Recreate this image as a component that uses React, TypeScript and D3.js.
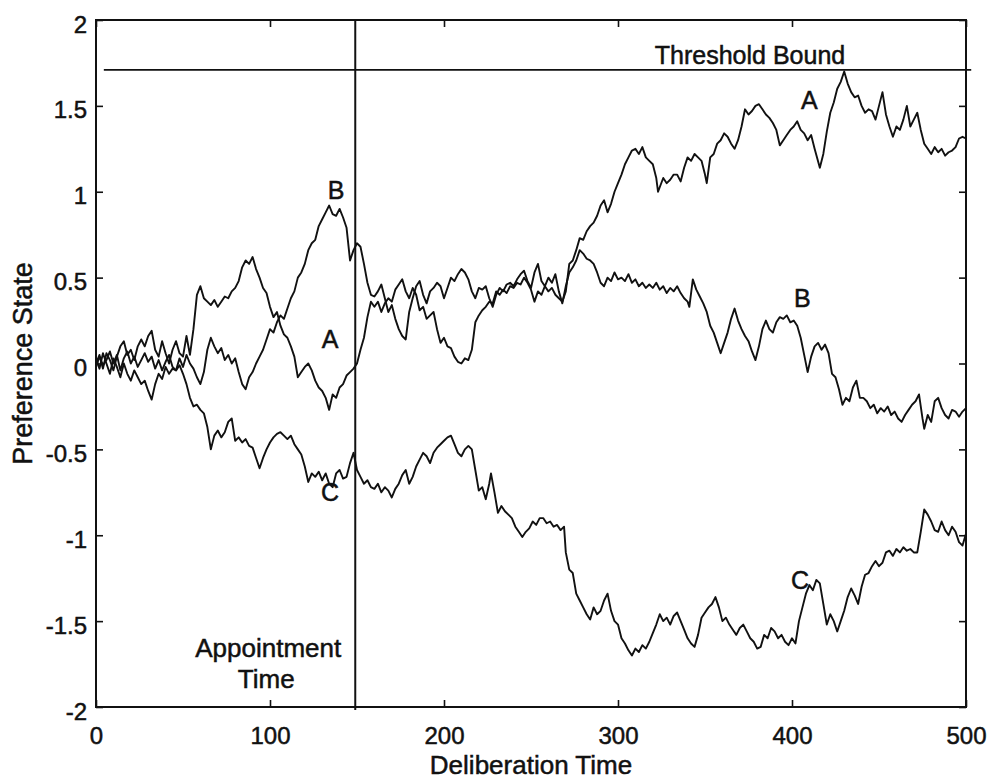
import React, { useEffect, useRef } from "react";
import * as d3 from "d3";

// preference state of each option over deliberation time
const seriesA: [number, number][] = [
  [0, 0], [2, 0.05], [4, -0.03], [6, 0.06], [8, 0.02], [10, -0.04], [12, 0.04], [14, 0.1], [16, 0.13], [18, 0.05],
  [20, 0.08], [22, 0.02], [24, 0.1], [26, 0.14], [28, 0.1], [30, 0.16], [32, 0.19], [34, 0.08], [36, 0.04], [38, 0.13],
  [40, 0.06], [42, 0], [44, 0.08], [46, 0.13], [48, 0.06], [50, 0.04], [52, 0.16], [54, 0.05], [56, 0.2], [58, 0.4],
  [60, 0.45], [62, 0.38], [64, 0.36], [66, 0.34], [68, 0.37], [70, 0.33], [72, 0.36], [74, 0.39], [76, 0.38], [78, 0.42],
  [80, 0.44], [82, 0.48], [84, 0.56], [86, 0.6], [88, 0.58], [90, 0.62], [92, 0.55], [94, 0.5], [96, 0.44], [98, 0.41],
  [100, 0.33], [102, 0.27], [104, 0.3], [106, 0.22], [108, 0.17], [110, 0.15], [112, 0.1], [114, 0.04], [116, -0.08], [118, -0.05],
  [120, -0.02], [122, 0], [124, -0.04], [126, -0.1], [128, -0.14], [130, -0.16], [132, -0.2], [134, -0.27], [136, -0.18], [138, -0.2],
  [140, -0.14], [142, -0.12], [144, -0.07], [146, -0.05], [148, -0.03], [150, 0], [152, 0.08], [154, 0.15], [156, 0.27], [158, 0.36],
  [160, 0.33], [162, 0.36], [164, 0.3], [166, 0.35], [168, 0.38], [170, 0.36], [172, 0.43], [174, 0.46], [176, 0.49], [178, 0.42],
  [180, 0.38], [182, 0.44], [184, 0.4], [186, 0.31], [188, 0.33], [190, 0.26], [192, 0.28], [194, 0.3], [196, 0.2], [198, 0.12],
  [200, 0.15], [202, 0.1], [204, 0.09], [206, 0.04], [208, 0.01], [210, 0], [212, 0.03], [214, 0.02], [216, 0.08], [218, 0.24],
  [220, 0.28], [222, 0.31], [224, 0.33], [226, 0.36], [228, 0.35], [230, 0.42], [232, 0.4], [234, 0.43], [236, 0.41], [238, 0.45],
  [240, 0.44], [242, 0.47], [244, 0.46], [246, 0.5], [248, 0.47], [250, 0.43], [252, 0.36], [254, 0.42], [256, 0.4], [258, 0.45],
  [260, 0.42], [262, 0.44], [264, 0.4], [266, 0.38], [268, 0.36], [270, 0.42], [272, 0.58], [274, 0.6], [276, 0.66], [278, 0.73],
  [280, 0.72], [282, 0.77], [284, 0.8], [286, 0.82], [288, 0.86], [290, 0.92], [292, 0.95], [294, 0.88], [296, 0.93], [298, 1.0],
  [300, 1.05], [302, 1.1], [304, 1.16], [306, 1.2], [308, 1.24], [310, 1.25], [312, 1.22], [314, 1.26], [316, 1.2], [318, 1.18],
  [320, 1.16], [322, 1.08], [323, 1.0], [326, 1.08], [328, 1.05], [330, 1.07], [332, 1.1], [334, 1.1], [336, 1.06], [338, 1.14],
  [340, 1.2], [342, 1.18], [344, 1.22], [346, 1.2], [348, 1.18], [350, 1.1], [351, 1.05], [353, 1.2], [355, 1.22], [357, 1.28],
  [359, 1.3], [361, 1.34], [363, 1.32], [365, 1.28], [367, 1.25], [369, 1.3], [371, 1.38], [373, 1.48], [375, 1.45], [377, 1.47],
  [379, 1.5], [381, 1.51], [383, 1.48], [385, 1.45], [387, 1.43], [389, 1.4], [391, 1.36], [393, 1.27], [395, 1.3], [397, 1.33],
  [399, 1.36], [401, 1.38], [403, 1.41], [405, 1.36], [407, 1.34], [409, 1.3], [411, 1.33], [413, 1.25], [416, 1.14], [418, 1.22],
  [420, 1.35], [422, 1.46], [424, 1.52], [426, 1.6], [428, 1.64], [430, 1.7], [432, 1.63], [434, 1.58], [436, 1.55], [438, 1.56],
  [440, 1.5], [442, 1.46], [444, 1.48], [446, 1.47], [448, 1.42], [450, 1.5], [452, 1.58], [454, 1.45], [456, 1.38], [458, 1.32],
  [460, 1.38], [462, 1.36], [464, 1.42], [466, 1.5], [468, 1.38], [470, 1.42], [472, 1.46], [474, 1.36], [476, 1.28], [478, 1.25],
  [480, 1.22], [482, 1.26], [484, 1.23], [486, 1.25], [488, 1.21], [490, 1.23], [492, 1.24], [494, 1.26], [496, 1.31], [498, 1.32],
  [500, 1.31],
];

const seriesB: [number, number][] = [
  [0, 0.03], [2, -0.03], [4, 0.06], [6, 0], [8, -0.06], [10, 0.03], [12, -0.02], [14, -0.08], [16, 0], [18, -0.06],
  [20, -0.1], [22, -0.04], [24, -0.08], [26, -0.12], [28, -0.1], [30, -0.16], [32, -0.21], [34, -0.12], [36, -0.06], [38, -0.09],
  [40, -0.02], [42, -0.06], [44, -0.03], [46, -0.04], [48, 0.03], [50, -0.02], [52, 0.05], [54, 0], [56, -0.03], [58, -0.08],
  [60, -0.12], [62, -0.05], [64, 0.08], [66, 0.15], [68, 0.1], [70, 0.06], [72, 0.09], [74, 0.02], [76, 0.05], [78, 0],
  [80, 0.03], [82, -0.05], [84, -0.12], [86, -0.15], [88, -0.08], [90, -0.05], [92, 0], [94, 0.04], [96, 0.08], [98, 0.14],
  [100, 0.2], [102, 0.18], [104, 0.24], [106, 0.28], [108, 0.26], [110, 0.32], [112, 0.38], [114, 0.42], [116, 0.5], [118, 0.53],
  [120, 0.58], [122, 0.66], [124, 0.7], [126, 0.72], [128, 0.8], [130, 0.84], [132, 0.88], [134, 0.92], [136, 0.87], [138, 0.86],
  [140, 0.9], [142, 0.85], [144, 0.79], [146, 0.6], [148, 0.66], [150, 0.7], [152, 0.68], [154, 0.58], [156, 0.47], [158, 0.4],
  [160, 0.39], [162, 0.42], [164, 0.46], [166, 0.38], [168, 0.3], [170, 0.34], [172, 0.26], [174, 0.2], [176, 0.16], [178, 0.14],
  [180, 0.3], [182, 0.38], [184, 0.45], [186, 0.48], [188, 0.4], [190, 0.35], [192, 0.42], [194, 0.44], [196, 0.47], [198, 0.45],
  [200, 0.38], [202, 0.44], [204, 0.5], [206, 0.48], [208, 0.52], [210, 0.55], [212, 0.53], [214, 0.49], [216, 0.42], [218, 0.38],
  [220, 0.44], [222, 0.43], [224, 0.45], [226, 0.38], [228, 0.33], [230, 0.4], [232, 0.44], [234, 0.42], [236, 0.46], [238, 0.47],
  [240, 0.45], [242, 0.49], [244, 0.52], [246, 0.54], [248, 0.48], [250, 0.44], [252, 0.53], [254, 0.58], [256, 0.48], [258, 0.45],
  [260, 0.5], [262, 0.47], [264, 0.52], [266, 0.42], [268, 0.35], [270, 0.45], [272, 0.53], [274, 0.56], [276, 0.6], [278, 0.66],
  [280, 0.64], [282, 0.61], [284, 0.6], [286, 0.58], [288, 0.53], [290, 0.47], [292, 0.45], [294, 0.5], [296, 0.48], [298, 0.53],
  [300, 0.49], [302, 0.5], [304, 0.48], [306, 0.52], [308, 0.47], [310, 0.49], [312, 0.45], [314, 0.47], [316, 0.44], [318, 0.46],
  [320, 0.44], [322, 0.47], [324, 0.43], [326, 0.45], [328, 0.41], [330, 0.44], [332, 0.42], [334, 0.45], [336, 0.41], [338, 0.38],
  [340, 0.36], [341, 0.33], [343, 0.49], [345, 0.43], [347, 0.39], [349, 0.35], [351, 0.3], [353, 0.22], [355, 0.18], [357, 0.12],
  [359, 0.06], [361, 0.12], [363, 0.18], [365, 0.26], [367, 0.32], [369, 0.25], [371, 0.2], [373, 0.16], [375, 0.13], [377, 0.07],
  [379, 0.02], [381, 0.1], [383, 0.2], [385, 0.25], [387, 0.2], [389, 0.18], [391, 0.24], [393, 0.27], [395, 0.26], [397, 0.28],
  [399, 0.24], [401, 0.25], [403, 0.22], [405, 0.15], [407, 0.05], [409, -0.05], [411, 0.04], [413, 0.1], [415, 0.12], [417, 0.08],
  [419, 0.11], [421, 0.06], [423, -0.06], [425, -0.08], [427, -0.15], [429, -0.24], [431, -0.2], [433, -0.22], [435, -0.14], [437, -0.1],
  [439, -0.2], [441, -0.2], [443, -0.22], [445, -0.26], [447, -0.24], [449, -0.29], [451, -0.26], [453, -0.28], [455, -0.25], [457, -0.3],
  [459, -0.28], [461, -0.32], [463, -0.34], [465, -0.3], [467, -0.27], [469, -0.24], [471, -0.22], [473, -0.18], [475, -0.32], [476, -0.38],
  [478, -0.3], [480, -0.34], [482, -0.22], [484, -0.2], [486, -0.26], [488, -0.3], [490, -0.32], [492, -0.27], [494, -0.28], [496, -0.31],
  [498, -0.28], [500, -0.26],
];

const seriesC: [number, number][] = [
  [0, -0.02], [2, 0.04], [4, -0.01], [6, 0.02], [8, 0.07], [10, 0], [12, 0.05], [14, -0.04], [16, 0.03], [18, 0.07],
  [20, 0], [22, 0.04], [24, -0.02], [26, 0.02], [28, 0.06], [30, 0.01], [32, 0.04], [34, -0.03], [36, 0.02], [38, -0.04],
  [40, 0.01], [42, 0.05], [44, -0.02], [46, -0.04], [48, -0.01], [50, -0.06], [52, -0.12], [54, -0.2], [56, -0.25], [58, -0.24],
  [60, -0.27], [62, -0.29], [64, -0.37], [66, -0.5], [68, -0.42], [70, -0.39], [72, -0.43], [74, -0.4], [76, -0.34], [78, -0.32],
  [80, -0.45], [82, -0.43], [84, -0.46], [86, -0.44], [88, -0.48], [90, -0.49], [92, -0.55], [94, -0.61], [96, -0.55], [98, -0.5],
  [100, -0.46], [102, -0.43], [104, -0.41], [106, -0.4], [108, -0.42], [110, -0.44], [112, -0.42], [114, -0.47], [116, -0.5], [118, -0.53],
  [120, -0.6], [122, -0.69], [124, -0.64], [126, -0.66], [128, -0.63], [130, -0.68], [132, -0.64], [134, -0.7], [136, -0.72], [138, -0.64],
  [140, -0.62], [142, -0.67], [144, -0.66], [146, -0.58], [148, -0.52], [150, -0.62], [152, -0.66], [154, -0.7], [156, -0.68], [158, -0.72],
  [160, -0.73], [162, -0.7], [164, -0.75], [166, -0.72], [168, -0.74], [170, -0.78], [172, -0.73], [174, -0.7], [176, -0.65], [178, -0.62],
  [180, -0.7], [182, -0.66], [184, -0.6], [186, -0.56], [188, -0.52], [190, -0.54], [192, -0.58], [194, -0.52], [196, -0.49], [198, -0.47],
  [200, -0.45], [202, -0.43], [204, -0.42], [206, -0.47], [208, -0.52], [210, -0.54], [212, -0.5], [214, -0.48], [216, -0.5], [218, -0.62],
  [220, -0.74], [222, -0.72], [224, -0.79], [226, -0.7], [227, -0.64], [229, -0.75], [231, -0.87], [233, -0.83], [235, -0.86], [237, -0.88],
  [239, -0.9], [241, -0.95], [243, -0.98], [245, -1.01], [247, -0.98], [249, -0.96], [251, -0.92], [253, -0.94], [255, -0.9], [257, -0.9],
  [259, -0.93], [261, -0.92], [263, -0.95], [265, -0.94], [267, -0.97], [269, -0.95], [270, -1.1], [272, -1.2], [274, -1.22], [276, -1.34],
  [278, -1.38], [280, -1.42], [282, -1.46], [284, -1.49], [286, -1.42], [288, -1.46], [290, -1.44], [292, -1.38], [294, -1.34], [296, -1.44],
  [298, -1.5], [300, -1.52], [302, -1.6], [304, -1.63], [306, -1.67], [308, -1.7], [310, -1.66], [312, -1.68], [314, -1.64], [316, -1.66],
  [318, -1.62], [320, -1.57], [322, -1.52], [324, -1.46], [326, -1.5], [328, -1.48], [330, -1.52], [332, -1.47], [334, -1.45], [336, -1.5],
  [338, -1.55], [340, -1.6], [342, -1.63], [344, -1.65], [346, -1.58], [348, -1.48], [350, -1.45], [352, -1.42], [354, -1.4], [356, -1.36],
  [358, -1.42], [360, -1.5], [362, -1.48], [364, -1.52], [366, -1.55], [368, -1.58], [370, -1.54], [372, -1.52], [374, -1.56], [376, -1.6],
  [378, -1.62], [380, -1.66], [382, -1.65], [384, -1.58], [386, -1.6], [388, -1.54], [390, -1.56], [392, -1.6], [394, -1.58], [396, -1.62],
  [398, -1.64], [400, -1.6], [402, -1.63], [404, -1.5], [406, -1.42], [408, -1.34], [410, -1.29], [412, -1.32], [414, -1.26], [416, -1.28],
  [418, -1.4], [420, -1.52], [422, -1.46], [424, -1.5], [426, -1.56], [428, -1.5], [430, -1.44], [432, -1.36], [434, -1.31], [436, -1.35],
  [438, -1.4], [440, -1.3], [442, -1.23], [444, -1.22], [446, -1.18], [448, -1.15], [450, -1.18], [452, -1.16], [454, -1.1], [456, -1.09],
  [458, -1.12], [460, -1.08], [462, -1.1], [464, -1.07], [466, -1.09], [468, -1.08], [470, -1.1], [472, -1.1], [474, -0.98], [476, -0.85],
  [478, -0.88], [480, -0.92], [482, -0.97], [484, -0.98], [486, -0.92], [488, -0.97], [490, -1.0], [492, -0.95], [494, -0.98], [496, -1.04],
  [498, -1.06], [500, -0.99],
];

const xTicks = [0, 100, 200, 300, 400, 500];
const yTicks = [-2, -1.5, -1, -0.5, 0, 0.5, 1, 1.5, 2];
const thresholdBound = 1.71;
const appointmentTime = 149;

// curve letters, placed in data units
const curveLabels = [
  { text: "B", t: 138, v: 1.01 },
  { text: "A", t: 134.5, v: 0.14 },
  { text: "C", t: 134.5, v: -0.75 },
  { text: "A", t: 410, v: 1.53 },
  { text: "B", t: 406, v: 0.38 },
  { text: "C", t: 404.6, v: -1.26 },
];

const font = "'Liberation Sans', Arial, Helvetica, sans-serif";
const ink = "#111";

const App = () => {
  const ref = useRef<SVGSVGElement>(null);

  useEffect(() => {
    document.body.style.margin = "0";
    const svg = d3.select(ref.current);
    svg.selectAll("*").remove();

    const width = 987;
    const height = 782;
    const left = 96, right = 966, top = 20, bottom = 707;

    const x = d3.scaleLinear().domain([0, 500]).range([left, right]);
    const y = d3.scaleLinear().domain([-2, 2]).range([bottom, top]);

    svg.attr("width", width).attr("height", height);
    svg.append("rect").attr("width", width).attr("height", height).attr("fill", "white");

    // axes with inward ticks on all four sides
    const tickLen = 7;
    const bottomAxis = svg
      .append("g")
      .attr("transform", `translate(0, ${bottom})`)
      .call(d3.axisBottom(x).tickValues(xTicks).tickSizeInner(-tickLen).tickSizeOuter(0).tickPadding(20));
    const leftAxis = svg
      .append("g")
      .attr("transform", `translate(${left}, 0)`)
      .call(
        d3.axisLeft(y).tickValues(yTicks).tickSizeInner(-tickLen).tickSizeOuter(0).tickPadding(9)
          .tickFormat((d) => `${d}`)
      );
    svg
      .append("g")
      .attr("transform", `translate(0, ${top})`)
      .call(d3.axisTop(x).tickValues(xTicks).tickSizeInner(-tickLen).tickSizeOuter(0).tickFormat(() => ""));
    svg
      .append("g")
      .attr("transform", `translate(${right}, 0)`)
      .call(d3.axisRight(y).tickValues(yTicks).tickSizeInner(-tickLen).tickSizeOuter(0).tickFormat(() => ""));

    svg.selectAll(".domain").remove();
    svg.selectAll(".tick line").attr("stroke", ink).attr("stroke-width", 1.6);

    [bottomAxis, leftAxis].forEach((g) =>
      g
        .selectAll("text")
        .attr("font-family", font)
        .attr("font-size", 24)
        .attr("fill", ink)
        .attr("stroke", ink)
        .attr("stroke-width", 0.5)
    );
    leftAxis.selectAll("text").attr("dy", "0.5em");

    // frame
    svg
      .append("rect")
      .attr("x", left)
      .attr("y", top)
      .attr("width", right - left)
      .attr("height", bottom - top)
      .attr("fill", "none")
      .attr("stroke", ink)
      .attr("stroke-width", 2);

    // threshold and appointment lines
    svg
      .append("line")
      .attr("x1", x(4.5))
      .attr("x2", x(503))
      .attr("y1", y(thresholdBound))
      .attr("y2", y(thresholdBound))
      .attr("stroke", ink)
      .attr("stroke-width", 1.8);
    svg
      .append("line")
      .attr("x1", x(appointmentTime))
      .attr("x2", x(appointmentTime))
      .attr("y1", top)
      .attr("y2", bottom + 3)
      .attr("stroke", ink)
      .attr("stroke-width", 2);

    // random-walk preference curves
    const line = d3
      .line<[number, number]>()
      .x((d) => x(d[0]))
      .y((d) => y(d[1]));

    [seriesA, seriesB, seriesC].forEach((s) => {
      svg
        .append("path")
        .datum(s)
        .attr("d", line)
        .attr("fill", "none")
        .attr("stroke", ink)
        .attr("stroke-width", 1.9)
        .attr("stroke-linejoin", "round");
    });

    const addText = (tx: number, ty: number, text: string, size: number) =>
      svg
        .append("text")
        .attr("x", tx)
        .attr("y", ty)
        .attr("text-anchor", "middle")
        .attr("font-family", font)
        .attr("font-size", size)
        .attr("fill", ink)
        .attr("stroke", ink)
        .attr("stroke-width", 0.5)
        .text(text);

    // curve letters
    curveLabels.forEach((d) => addText(x(d.t), y(d.v), d.text, 25).attr("dy", "0.35em"));

    // annotations
    addText(750, y(thresholdBound) - 6, "Threshold Bound", 25);
    addText(x(appointmentTime) - 87, 657, "Appointment", 26);
    addText(x(appointmentTime) - 89, 688, "Time", 26);

    // axis titles
    addText((left + right) / 2, 774, "Deliberation Time", 26);
    addText(0, 0, "Preference State", 27).attr(
      "transform",
      `translate(32, ${(top + bottom) / 2}) rotate(-90)`
    );
  }, []);

  return <svg ref={ref} style={{ display: "block" }} />;
};

export default App;
